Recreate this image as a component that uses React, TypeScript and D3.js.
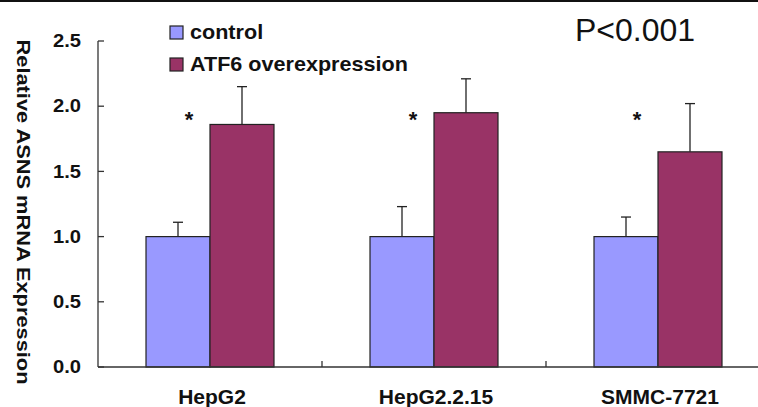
import React, { useEffect, useRef } from 'react';
import * as d3 from 'd3';

const categories = ['HepG2', 'HepG2.2.15', 'SMMC-7721'];
const seriesNames = ['control', 'ATF6 overexpression'];
const controlValues = [1.0, 1.0, 1.0];
const controlErrors = [0.11, 0.23, 0.15];
const atf6Values = [1.86, 1.95, 1.65];
const atf6Errors = [0.29, 0.26, 0.37];
const yTicks = [0, 0.5, 1.0, 1.5, 2.0, 2.5];
const colors = ['#9999ff', '#993366'];

const App = () => {
    const svgRef = useRef<SVGSVGElement>(null);

    useEffect(() => {
        const width = 758;
        const height = 407;
        const svg = d3.select(svgRef.current);
        svg.selectAll('*').remove();

        const font = '"Liberation Sans", Arial, sans-serif';
        const left = 98;
        const bottom = 367;
        const top = 41;

        // top border
        svg.append('rect')
            .attr('x', 0).attr('y', 0)
            .attr('width', width).attr('height', 2)
            .style('fill', '#111');

        const x0 = d3.scaleBand()
            .domain(categories)
            .range([left, left + 224 * 3])
            .paddingInner(0.4286)
            .paddingOuter(0.2143);

        const x1 = d3.scaleBand()
            .domain(seriesNames)
            .range([0, x0.bandwidth()]);

        const y = d3.scaleLinear()
            .domain([0, 2.5])
            .range([bottom, top]);

        const g = svg.append('g');

        // Bars
        const rows = categories.map((c, i) => ({
            cat: c,
            vals: [
                { s: seriesNames[0], v: controlValues[i], e: controlErrors[i], c: colors[0] },
                { s: seriesNames[1], v: atf6Values[i], e: atf6Errors[i], c: colors[1] },
            ],
        }));

        rows.forEach(row => {
            row.vals.forEach(d => {
                const bx = (x0(row.cat) as number) + (x1(d.s) as number);
                const bw = x1.bandwidth();
                const cx = bx + bw / 2;
                // error bar
                g.append('line')
                    .attr('x1', cx).attr('x2', cx)
                    .attr('y1', y(d.v)).attr('y2', y(d.v + d.e))
                    .style('stroke', '#222').style('stroke-width', 1.3);
                g.append('line')
                    .attr('x1', cx - 5).attr('x2', cx + 5)
                    .attr('y1', y(d.v + d.e)).attr('y2', y(d.v + d.e))
                    .style('stroke', '#222').style('stroke-width', 1.3);
                g.append('rect')
                    .attr('x', bx).attr('y', y(d.v))
                    .attr('width', bw).attr('height', bottom - y(d.v))
                    .style('fill', d.c)
                    .style('stroke', '#222')
                    .style('stroke-width', 1.2);
            });
            // significance star
            const sx = (x0(row.cat) as number) + (x1(seriesNames[0]) as number) + x1.bandwidth() / 2 + 11;
            g.append('text')
                .attr('x', sx)
                .attr('y', y(1.94) + 13)
                .attr('text-anchor', 'middle')
                .style('font-family', font)
                .style('font-weight', 'bold')
                .style('font-size', '22px')
                .style('fill', '#111')
                .text('*');
        });

        // Axes
        const axisColor = '#333';
        g.append('line')
            .attr('x1', left).attr('x2', left)
            .attr('y1', top).attr('y2', bottom)
            .style('stroke', axisColor).style('stroke-width', 1.3);
        g.append('line')
            .attr('x1', left).attr('x2', width)
            .attr('y1', bottom).attr('y2', bottom)
            .style('stroke', axisColor).style('stroke-width', 1.3);

        yTicks.forEach(t => {
            g.append('line')
                .attr('x1', left).attr('x2', left + 6)
                .attr('y1', y(t)).attr('y2', y(t))
                .style('stroke', axisColor).style('stroke-width', 1.3);
            g.append('text')
                .attr('transform', `translate(81, ${y(t)}) scale(1.12, 1)`)
                .attr('text-anchor', 'end')
                .attr('dominant-baseline', 'central')
                .style('font-family', font)
                .style('font-weight', 'bold')
                .style('font-size', '18px')
                .style('fill', '#111')
                .text(t.toFixed(1));
        });

        // category boundary ticks
        categories.slice(1).forEach(c => {
            const tx = (x0(c) as number) - x0.step() * x0.paddingInner() / 2;
            g.append('line')
                .attr('x1', tx).attr('x2', tx)
                .attr('y1', bottom).attr('y2', bottom - 6)
                .style('stroke', axisColor).style('stroke-width', 1.3);
        });

        categories.forEach(c => {
            g.append('text')
                .attr('x', (x0(c) as number) + x0.bandwidth() / 2 + 2)
                .attr('y', 404)
                .attr('text-anchor', 'middle')
                .style('font-family', font)
                .style('font-weight', 'bold')
                .style('font-size', '21px')
                .style('fill', '#111')
                .text(c);
        });

        // Y title
        svg.append('text')
            .attr('transform', `translate(17, 212) rotate(90)`)
            .attr('text-anchor', 'middle')
            .attr('textLength', 345)
            .attr('lengthAdjust', 'spacingAndGlyphs')
            .style('font-family', font)
            .style('font-weight', 'bold')
            .style('font-size', '19px')
            .style('fill', '#111')
            .text('Relative ASNS mRNA Expression');

        // Legend
        seriesNames.forEach((s, i) => {
            const ly = 26 + i * 32;
            svg.append('rect')
                .attr('x', 170).attr('y', ly)
                .attr('width', 13).attr('height', 13)
                .style('fill', colors[i])
                .style('stroke', '#222')
                .style('stroke-width', 1.2);
            svg.append('text')
                .attr('transform', `translate(190, ${ly + 13}) scale(1.08, 1)`)
                .style('font-family', font)
                .style('font-weight', 'bold')
                .style('font-size', '20px')
                .style('fill', '#111')
                .text(s);
        });

        // P value
        svg.append('text')
            .attr('x', 575)
            .attr('y', 41)
            .style('font-family', font)
            .style('font-size', '32px')
            .style('fill', '#111')
            .text('P<0.001');
    }, []);

    return (
        <svg
            ref={svgRef}
            width={758}
            height={407}
            style={{ position: 'absolute', left: 0, top: 0, display: 'block', background: '#fff' }}
        />
    );
};

export default App;
